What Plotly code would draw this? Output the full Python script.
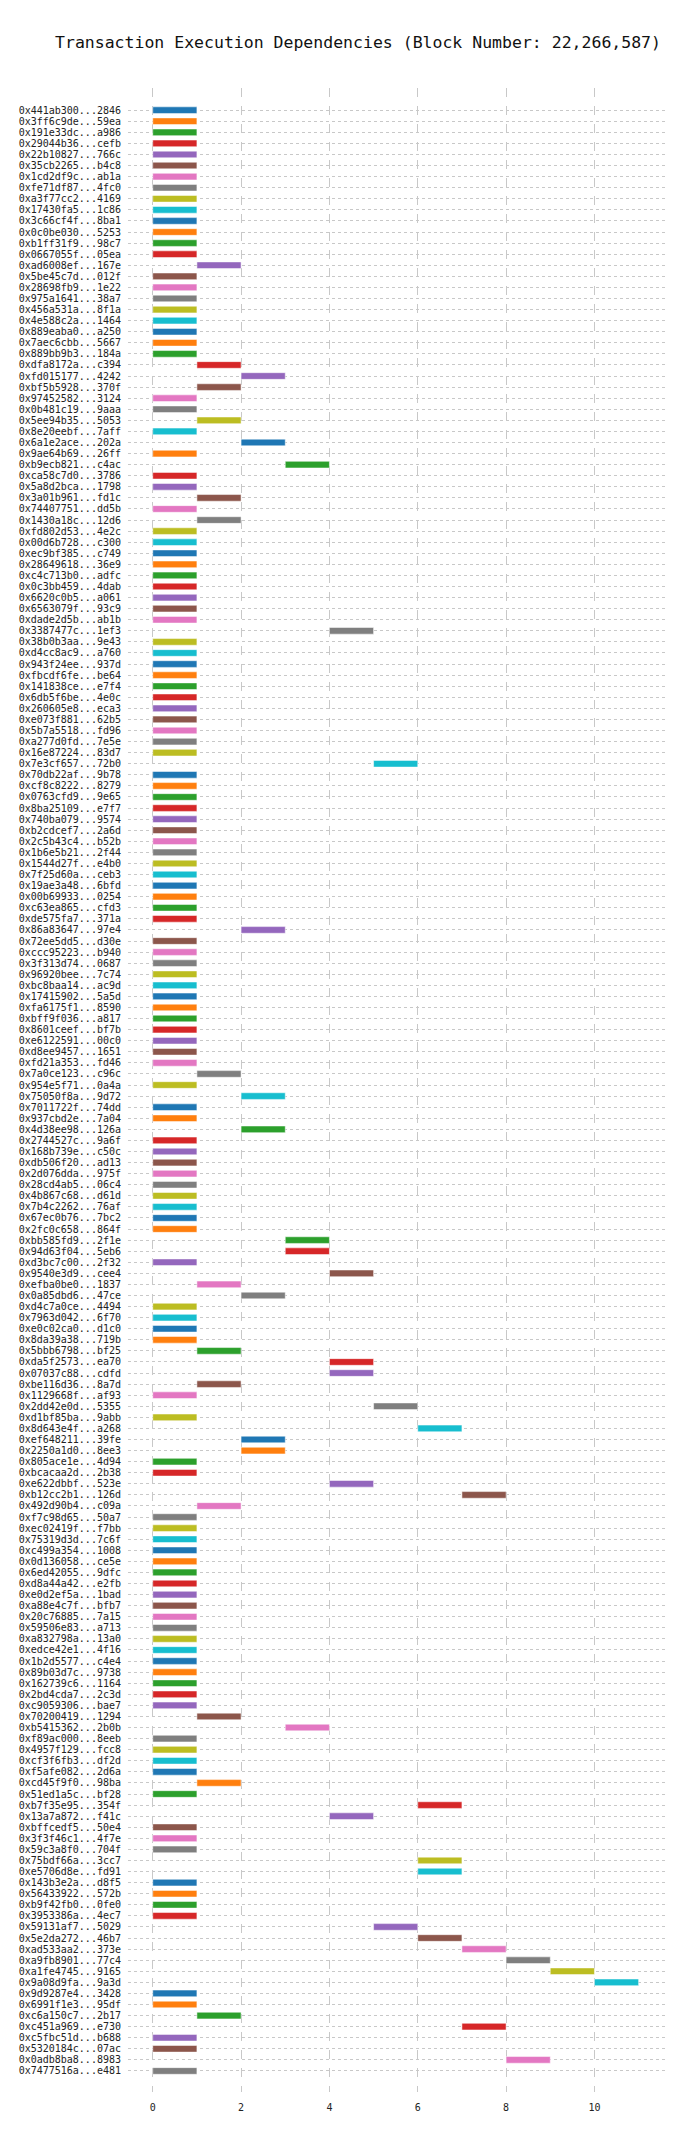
import plotly.graph_objects as go

tx_labels = [
    "0x441ab300...2846", "0x3ff6c9de...59ea", "0x191e33dc...a986", "0x29044b36...cefb",
    "0x22b10827...766c", "0x35cb2265...b4c8", "0x1cd2df9c...ab1a", "0xfe71df87...4fc0",
    "0xa3f77cc2...4169", "0x17430fa5...1c86", "0x3c66cf4f...8ba1", "0x0c0be030...5253",
    "0xb1ff31f9...98c7", "0x0667055f...05ea", "0xad6008ef...167e", "0x5be45c7d...012f",
    "0x28698fb9...1e22", "0x975a1641...38a7", "0x456a531a...8f1a", "0x4e588c2a...1464",
    "0x889eaba0...a250", "0x7aec6cbb...5667", "0x889bb9b3...184a", "0xdfa8172a...c394",
    "0xfd015177...4242", "0xbf5b5928...370f", "0x97452582...3124", "0x0b481c19...9aaa",
    "0x5ee94b35...5053", "0x8e20eebf...7aff", "0x6a1e2ace...202a", "0x9ae64b69...26ff",
    "0xb9ecb821...c4ac", "0xca58c7d0...3786", "0x5a8d2bca...1798", "0x3a01b961...fd1c",
    "0x74407751...dd5b", "0x1430a18c...12d6", "0xfd802d53...4e2c", "0x00d6b728...c300",
    "0xec9bf385...c749", "0x28649618...36e9", "0xc4c713b0...adfc", "0x0c3bb459...4dab",
    "0x6620c0b5...a061", "0x6563079f...93c9", "0xdade2d5b...ab1b", "0x3387477c...1ef3",
    "0x38b0b3aa...9e43", "0xd4cc8ac9...a760", "0x943f24ee...937d", "0xfbcdf6fe...be64",
    "0x141838ce...e7f4", "0x6db5f6be...4e0c", "0x260605e8...eca3", "0xe073f881...62b5",
    "0x5b7a5518...fd96", "0xa277d0fd...7e5e", "0x16e87224...83d7", "0x7e3cf657...72b0",
    "0x70db22af...9b78", "0xcf8c8222...8279", "0x0763cfd9...9e65", "0x8ba25109...e7f7",
    "0x740ba079...9574", "0xb2cdcef7...2a6d", "0x2c5b43c4...b52b", "0x1b6e5b21...2f44",
    "0x1544d27f...e4b0", "0x7f25d60a...ceb3", "0x19ae3a48...6bfd", "0x00b69933...0254",
    "0xc63ea865...cfd3", "0xde575fa7...371a", "0x86a83647...97e4", "0x72ee5dd5...d30e",
    "0xccc95223...b940", "0x3f313d74...0687", "0x96920bee...7c74", "0xbc8baa14...ac9d",
    "0x17415902...5a5d", "0xfa6175f1...8590", "0xbff9f036...a817", "0x8601ceef...bf7b",
    "0xe6122591...00c0", "0xd8ee9457...1651", "0xfd21a353...fd46", "0x7a0ce123...c96c",
    "0x954e5f71...0a4a", "0x75050f8a...9d72", "0x7011722f...74dd", "0x937cbd2e...7a04",
    "0x4d38ee98...126a", "0x2744527c...9a6f", "0x168b739e...c50c", "0xdb506f20...ad13",
    "0x2d076dda...975f", "0x28cd4ab5...06c4", "0x4b867c68...d61d", "0x7b4c2262...76af",
    "0x67ec0b76...7bc2", "0x2fc0c658...864f", "0xbb585fd9...2f1e", "0x94d63f04...5eb6",
    "0xd3bc7c00...2f32", "0x9540e3d9...cee4", "0xefba0be0...1837", "0x0a85dbd6...47ce",
    "0xd4c7a0ce...4494", "0x7963d042...6f70", "0xe0c02ca0...d1c0", "0x8da39a38...719b",
    "0x5bbb6798...bf25", "0xda5f2573...ea70", "0x07037c88...cdfd", "0xbe116d36...8a7d",
    "0x1129668f...af93", "0x2dd42e0d...5355", "0xd1bf85ba...9abb", "0x8d643e4f...a268",
    "0xef648211...39fe", "0x2250a1d0...8ee3", "0x805ace1e...4d94", "0xbcacaa2d...2b38",
    "0xe622dbbf...523e", "0xb12cc2b1...126d", "0x492d90b4...c09a", "0xf7c98d65...50a7",
    "0xec02419f...f7bb", "0x75319d3d...7c6f", "0xc499a354...1008", "0x0d136058...ce5e",
    "0x6ed42055...9dfc", "0xd8a44a42...e2fb", "0xe0d2ef5a...1bad", "0xa88e4c7f...bfb7",
    "0x20c76885...7a15", "0x59506e83...a713", "0xa832798a...13a0", "0xedce42e1...4f16",
    "0x1b2d5577...c4e4", "0x89b03d7c...9738", "0x162739c6...1164", "0x2bd4cda7...2c3d",
    "0xc9059306...bae7", "0x70200419...1294", "0xb5415362...2b0b", "0xf89ac000...8eeb",
    "0x4957f129...fcc8", "0xcf3f6fb3...df2d", "0xf5afe082...2d6a", "0xcd45f9f0...98ba",
    "0x51ed1a5c...bf28", "0xb7f35e95...354f", "0x13a7a872...f41c", "0xbffcedf5...50e4",
    "0x3f3f46c1...4f7e", "0x59c3a8f0...704f", "0x75bdf66a...3cc7", "0xe5706d8e...fd91",
    "0x143b3e2a...d8f5", "0x56433922...572b", "0xb9f42fb0...0fe0", "0x3953386a...4ec7",
    "0x59131af7...5029", "0x5e2da272...46b7", "0xad533aa2...373e", "0xa9fb8901...77c4",
    "0xa1fe4745...9165", "0x9a08d9fa...9a3d", "0x9d9287e4...3428", "0x6991f1e3...95df",
    "0xc6a150c7...2b17", "0xc451a969...e730", "0xc5fbc51d...b688", "0x5320184c...07ac",
    "0x0adb8ba8...8983", "0x7477516a...e481",
]

start_step = [
    0, 0, 0, 0, 0, 0, 0, 0, 0, 0, 0, 0, 0, 0, 1,
    0, 0, 0, 0, 0, 0, 0, 0, 1, 2, 1, 0, 0, 1, 0,
    2, 0, 3, 0, 0, 1, 0, 1, 0, 0, 0, 0, 0, 0,
    0, 0, 0, 4, 0, 0, 0, 0, 0, 0, 0, 0, 0, 0, 0,
    5, 0, 0, 0, 0, 0, 0, 0, 0, 0, 0, 0, 0, 0, 0,
    2, 0, 0, 0, 0, 0, 0, 0, 0, 0, 0, 0, 0, 1, 0,
    2, 0, 0, 2, 0, 0, 0, 0, 0, 0, 0, 0, 0, 3,
    3, 0, 4, 1, 2, 0, 0, 0, 0, 1, 4, 4, 1, 0, 5,
    0, 6, 2, 2, 0, 0, 4, 7, 1, 0, 0, 0, 0, 0, 0,
    0, 0, 0, 0, 0, 0, 0, 0, 0, 0, 0, 0, 1, 3,
    0, 0, 0, 0, 1, 0, 6, 4, 0, 0, 0, 6, 6, 0, 0,
    0, 0, 5, 6, 7, 8, 9, 10, 0, 0, 1, 7, 0, 0, 8, 0,
]

step_length = [1] * len(tx_labels)

x_ticks = [0, 2, 4, 6, 8, 10]

palette = ["#1f77b4", "#ff7f0e", "#2ca02c", "#d62728", "#9467bd",
           "#8c564b", "#e377c2", "#7f7f7f", "#bcbd22", "#17becf"]
bar_colors = [palette[i % len(palette)] for i in range(len(tx_labels))]

mono = "DejaVu Sans Mono"

fig = go.Figure(
    go.Bar(
        y=tx_labels,
        x=step_length,
        base=start_step,
        orientation="h",
        width=0.6,
        marker=dict(color=bar_colors, line=dict(width=0.5, color="white")),
        showlegend=False,
    )
)

fig.update_layout(
    width=700,
    height=2136,
    paper_bgcolor="white",
    plot_bgcolor="white",
    margin=dict(l=120, r=42, t=80, b=52),
    title=dict(
        text="Transaction Execution Dependencies (Block Number: 22,266,587)",
        x=0.5,
        xanchor="center",
        y=1 - 34 / 2136,
        yanchor="middle",
        font=dict(family=mono, size=16.5, color="#111111"),
    ),
    font=dict(family=mono, size=10, color="#222222"),
)

fig.update_xaxes(
    range=[-0.56, 11.62],
    tickvals=x_ticks,
    showgrid=True,
    gridcolor="#c8c8c8",
    griddash="dash",
    gridwidth=1,
    zeroline=False,
    showline=False,
    ticks="",
    ticklabelstandoff=8,
    tickfont=dict(family=mono, size=10, color="#222222"),
)

fig.update_yaxes(
    type="category",
    categoryorder="array",
    categoryarray=tx_labels,
    tickmode="array",
    tickvals=tx_labels,
    ticktext=tx_labels,
    range=[len(tx_labels) - 0.5 + 1.4, -2.0],
    showgrid=True,
    gridcolor="#c8c8c8",
    griddash="dot",
    gridwidth=1,
    zeroline=False,
    showline=False,
    ticks="",
    ticklabelstandoff=6,
    tickfont=dict(family=mono, size=10, color="#222222"),
)

fig.write_html("out.html")
